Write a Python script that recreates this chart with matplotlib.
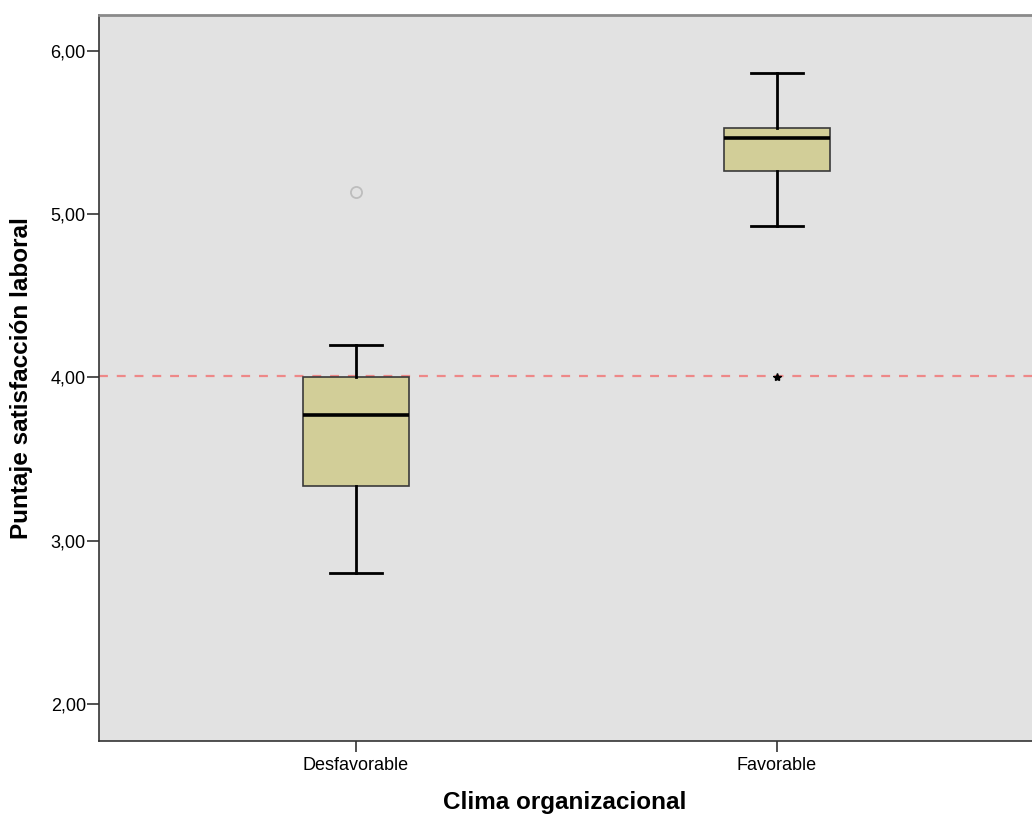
import matplotlib
matplotlib.use('Agg')
import matplotlib.pyplot as plt

plt.rcParams['font.family'] = ['Liberation Sans', 'DejaVu Sans']

# Box plot summary values
categories = ['Desfavorable', 'Favorable']
whisker_low = [2.80, 4.93]
q1 = [3.335, 5.265]
median = [3.77, 5.465]
q3 = [4.00, 5.525]
whisker_high = [4.20, 5.865]
outliers = [[5.135], []]      # open circles
extremes = [[], [4.00]]       # stars
reference = 4.01

stats = []
for i, name in enumerate(categories):
    stats.append({'label': name, 'whislo': whisker_low[i], 'q1': q1[i], 'med': median[i],
                  'q3': q3[i], 'whishi': whisker_high[i], 'fliers': []})

fig = plt.figure(figsize=(10.32, 8.15), dpi=100)
ax = fig.add_axes([99 / 1032, 74 / 815, 1 - 99 / 1032, 726 / 815])
ax.set_facecolor('#E2E2E2')

pos = [1, 2]
ax.bxp(stats, positions=pos, widths=0.252, patch_artist=True, showfliers=False,
       boxprops=dict(facecolor='#D2CE98', edgecolor='#3A3A3A', linewidth=1.2),
       medianprops=dict(color='black', linewidth=2.6),
       whiskerprops=dict(color='black', linewidth=2.0),
       capprops=dict(color='black', linewidth=2.0), capwidths=0.124, zorder=3)

for p, vals in zip(pos, outliers):
    if vals:
        ax.plot([p] * len(vals), vals, 'o', markersize=8, markerfacecolor='none',
                markeredgecolor='#BDBDBD', markeredgewidth=1.3, zorder=4)
for p, vals in zip(pos, extremes):
    if vals:
        ax.plot([p] * len(vals), vals, '*', markersize=6, color='black', zorder=5)

ax.axhline(reference, color='#EE8888', linestyle=(0, (4, 4)), linewidth=1.6, zorder=2)

ax.set_xlim(0.39, 2.606)
ax.set_ylim(1.773, 6.22)
ax.set_yticks([2, 3, 4, 5, 6])
ax.set_yticklabels(['2,00', '3,00', '4,00', '5,00', '6,00'])
ax.set_xticks(pos)
ax.set_xticklabels(categories)
ax.tick_params(axis='y', length=8.5, width=1.2, pad=1, labelsize=13, color='#333333')
ax.tick_params(axis='x', length=8, width=1.2, pad=3.5, labelsize=13, color='#333333')

for s in ['left', 'bottom']:
    ax.spines[s].set_color('#333333')
    ax.spines[s].set_linewidth(1.2)
ax.spines['top'].set_color('#8A8A8A')
ax.spines['top'].set_linewidth(2.0)
ax.spines['right'].set_visible(False)

fig.text(443 / 1032, 1 - 802 / 815, 'Clima organizacional', fontsize=17.5, fontweight='bold',
         ha='left', va='center')
fig.text(22 / 1032, 1 - 378 / 815, 'Puntaje satisfacción laboral', fontsize=17.5,
         fontweight='bold', rotation=90, ha='center', va='center')

fig.savefig('out.png', dpi=100)
